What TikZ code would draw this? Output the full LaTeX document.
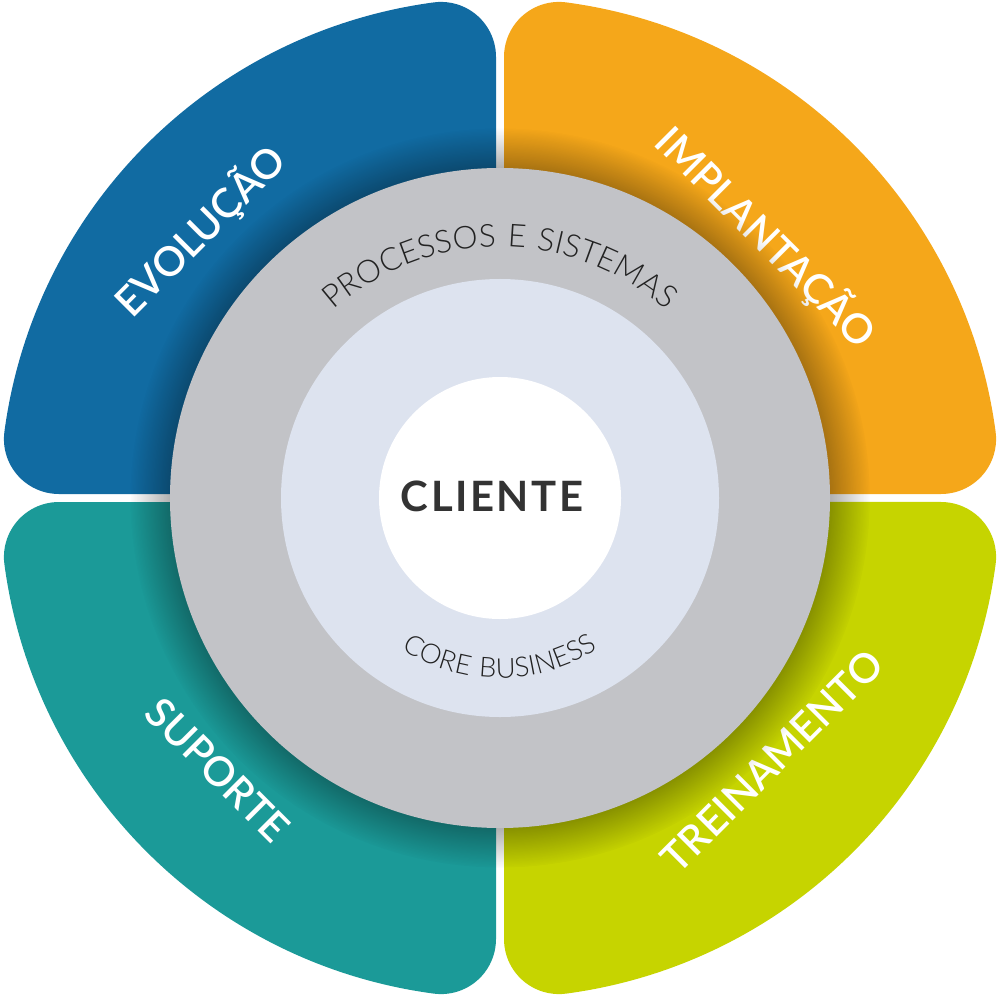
\documentclass[tikz,border=0pt]{standalone}
\usepackage{fontspec}
\setmainfont{Lato}
\newfontfamily\thinfont[LetterSpace=8]{Lato Light}
\newfontfamily\headfont[LetterSpace=6]{Lato Bold}
\newfontfamily\petalfont{Lato Semibold}
\usetikzlibrary{decorations.text,shadows,fadings}

\definecolor{evoblue}{HTML}{116BA2}
\definecolor{impOrange}{HTML}{F5A71A}
\definecolor{treGreen}{HTML}{C6D400}
\definecolor{supTeal}{HTML}{1B9A98}
\definecolor{ringgray}{HTML}{C2C3C7}
\definecolor{corelight}{HTML}{DDE3EF}
\definecolor{textdark}{HTML}{333333}
\definecolor{arcdark}{HTML}{222222}

\begin{document}
\begin{tikzpicture}[
  disc/.style={circle, inner sep=0pt, fill=#1},
  petallabel/.style={text=white, font=\petalfont\fontsize{11.6}{13}\selectfont},
  arclabel/.style 2 args={decorate, decoration={text along path, text align=center,
    text color=arcdark, text={|\thinfont\fontsize{#1}{10}\selectfont|#2}}},
]
  \useasboundingbox (-5,-5.01) rectangle (5,4.98);

  \pgfmathsetmacro{\gap}{0.04}
  \pgfmathsetmacro{\outR}{5}
  \pgfmathsetmacro{\cornR}{0.55}
  \pgfmathsetmacro{\fy}{sqrt((\outR-\cornR)^2-(\gap+\cornR)^2)}
  \pgfmathsetmacro{\tang}{atan2(\fy,-\gap-\cornR)}

  \foreach \turn/\tone in {0/evoblue, -90/impOrange, 180/treGreen, 90/supTeal} {
    \fill[\tone, rotate=\turn] (-\gap,\gap) -- (-\gap,\fy)
      arc[start angle=0, end angle=\tang, radius=\cornR]
      arc[start angle=\tang, end angle=270-\tang, radius=\outR]
      arc[start angle=270-\tang, end angle=270, radius=\cornR] -- cycle;
  }

  \node[petallabel, rotate=45] (evolucao) at (-3.00,2.67) {EVOLUÇÃO};
  \node[petallabel, rotate=-45] (implantacao) at (2.66,2.61) {IMPLANTAÇÃO};
  \node[petallabel, rotate=45] (treinamento) at (2.72,-2.63) {TREINAMENTO};
  \node[petallabel, rotate=-45] (suporte) at (-2.82,-2.72) {SUPORTE};

  \node[disc=ringgray, minimum size=6.6cm,
    circular drop shadow={shadow xshift=0pt, shadow yshift=0pt, shadow scale=1.12,
      opacity=.42, fill=black}]
    (processos) at (0,0) {};
  \node[disc=corelight, minimum size=4.38cm] (core) at (0,0) {};
  \node[disc=white, minimum size=2.42cm] (centro) at (0,0) {};
  \node[text=textdark, font=\headfont\fontsize{11.9}{14}\selectfont] (cliente) at (-0.08,0.02) {CLIENTE};

  \path[arclabel={9}{PROCESSOS E SISTEMAS}] (145:2.51) arc[start angle=145, end angle=35, radius=2.51];
  \path[arclabel={7.8}{CORE BUSINESS}] (215:1.80) arc[start angle=215, end angle=325, radius=1.80];
\end{tikzpicture}
\end{document}
